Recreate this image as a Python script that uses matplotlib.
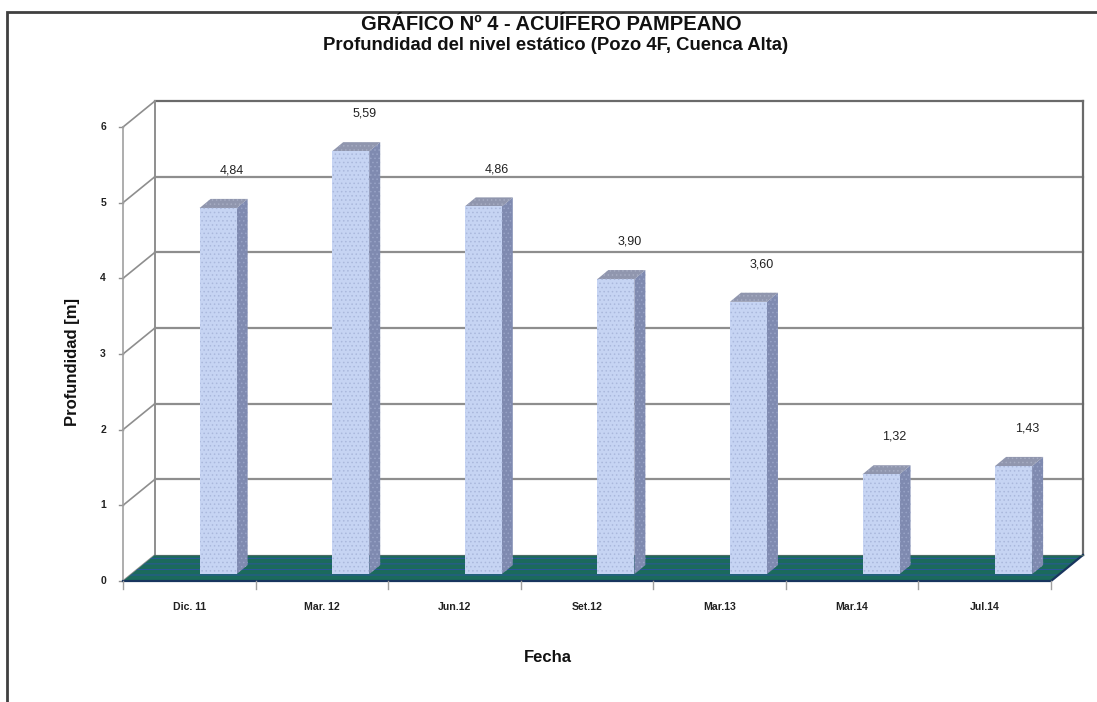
import matplotlib
matplotlib.use("Agg")
import matplotlib.pyplot as plt
from matplotlib.patches import Polygon, Rectangle

# ---- data ----
categories = ["Dic. 11", "Mar. 12", "Jun.12", "Set.12", "Mar.13", "Mar.14", "Jul.14"]
values = [4.84, 5.59, 4.86, 3.90, 3.60, 1.32, 1.43]
value_labels = ["4,84", "5,59", "4,86", "3,90", "3,60", "1,32", "1,43"]
yticks = [0, 1, 2, 3, 4, 5, 6]
title_line1 = "GRÁFICO Nº 4 - ACUÍFERO PAMPEANO"
title_line2 = "Profundidad del nivel estático (Pozo 4F, Cuenca Alta)"
xlabel = "Fecha"
ylabel = "Profundidad [m]"

plt.rcParams['font.family'] = ['Liberation Sans', 'DejaVu Sans']
plt.rcParams['hatch.linewidth'] = 0.6

W, H = 1097, 702
fig = plt.figure(figsize=(W / 100, H / 100), dpi=100)

# 3D-like box geometry (in data units)
N = len(categories)
YMAX = 6
DX, DY = 0.241, 0.344          # depth offset of the back wall
BAR_L, BAR_W = 0.578, 0.279    # bar front-face position within category
BAR_BASE = 0.09                # bar sits inside floor depth
BDX, BDY = 0.083, 0.12         # bar depth offset

ax = fig.add_axes([123 / W, (H - 581) / H, 960 / W, 480 / H])
ax.set_xlim(0, N + DX)
ax.set_ylim(0, YMAX + DY)
ax.axis('off')

grid_c = '#8e8e8e'
# back wall gridlines and left wall diagonals
for k in yticks:
    if k > 0:
        ax.plot([DX, N + DX], [k + DY, k + DY], color=grid_c if k < YMAX else '#6a6a6a',
                lw=1.6, clip_on=False, zorder=1)
    ax.plot([0, DX], [k, k + DY], color=grid_c, lw=1.2, clip_on=False, zorder=1)
    ax.plot([-0.03, 0], [k, k], color=grid_c, lw=1.0, clip_on=False, zorder=1)
    ax.text(-0.15, k, str(k), ha='center', va='center', fontsize=7.5,
            fontweight='bold', color='#222222')
# wall edges
ax.plot([0, 0], [0, YMAX], color='#a0a0a0', lw=1.2, clip_on=False, zorder=1)
ax.plot([DX, DX], [DY, YMAX + DY], color=grid_c, lw=1.4, clip_on=False, zorder=1)
ax.plot([N + DX, N + DX], [DY, YMAX + DY], color='#6a6a6a', lw=1.6, clip_on=False, zorder=1)

# floor
floor = Polygon([[0, 0], [N, 0], [N + DX, DY], [DX, DY]], closed=True,
                facecolor='#1b6a5c', edgecolor='#2e54a6', hatch='---', lw=0,
                clip_on=False, zorder=2)
ax.add_patch(floor)
ax.plot([0, N, N + DX], [0, 0, DY], color='#18355e', lw=1.6, clip_on=False, zorder=2)
ax.plot([DX, N + DX], [DY, DY], color='#4d6a66', lw=0.8, clip_on=False, zorder=2)

# x ticks and labels
for i in range(N + 1):
    ax.plot([i, i], [0, -0.1], color='#a0a0a0', lw=1.0, clip_on=False, zorder=2)
for i, c in enumerate(categories):
    ax.text(i + 0.5, -0.345, c, ha='center', va='center', fontsize=7.6,
            fontweight='bold', color='#222222')

# bars
for i, v in enumerate(values):
    x0 = i + BAR_L
    x1 = x0 + BAR_W
    y0 = BAR_BASE
    y1 = v + BAR_BASE
    side = Polygon([[x1, y0], [x1 + BDX, y0 + BDY], [x1 + BDX, y1 + BDY], [x1, y1]],
                   closed=True, facecolor='#7f8ab0', edgecolor='#98a3c6', hatch='....',
                   lw=0, zorder=3, clip_on=False)
    top = Polygon([[x0, y1], [x0 + BDX, y1 + BDY], [x1 + BDX, y1 + BDY], [x1, y1]],
                  closed=True, facecolor='#9096ae', edgecolor='#a6acc2', hatch='....',
                  lw=0, zorder=3, clip_on=False)
    front = Rectangle((x0, y0), BAR_W, v, facecolor='#c6d4f3', edgecolor='#aab8dc',
                      hatch='....', lw=0, zorder=4, clip_on=False)
    ax.add_patch(side)
    ax.add_patch(top)
    ax.add_patch(front)
    ax.text(i + 0.82, v + 0.585, value_labels[i], ha='center', va='center',
            fontsize=9, color='#222222', zorder=5)

# titles
fig.text(0.5025, 1 - 29.5 / H, title_line1, ha='center', va='baseline', fontsize=14.5,
         fontweight='bold', color='#111111')
fig.text(0.5065, 1 - 50.5 / H, title_line2, ha='center', va='baseline', fontsize=13.3,
         fontweight='bold', color='#111111')
fig.text(0.4995, 1 - 657 / H, xlabel, ha='center', va='center', fontsize=12,
         fontweight='bold', color='#111111')
fig.text(73 / W, 1 - 362 / H, ylabel, ha='center', va='center', rotation=90,
         fontsize=12, fontweight='bold', color='#111111')

# chart border
fig.patches.append(Rectangle((7 / W, -0.1), 1.2, 1 - 11.5 / H + 0.1, transform=fig.transFigure,
                             fill=False, edgecolor='#404040', lw=2, zorder=0))

fig.savefig('out.png', dpi=100, facecolor='white')
